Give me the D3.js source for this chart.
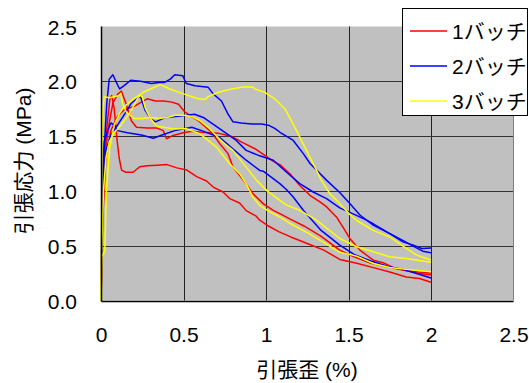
<!DOCTYPE html>
<html><head><meta charset="utf-8">
<script src="https://cdn.jsdelivr.net/npm/d3@7"></script>
<style>
html,body{margin:0;padding:0;background:#fff;}
svg text{font-family:"Liberation Sans",Arial,"Noto Sans CJK JP",sans-serif;}
</style></head>
<body><svg id="c" width="529" height="383"></svg>
<script>
// ---- data (strain %, stress MPa) ----
const seriesNames = ["1バッチ", "2バッチ", "3バッチ"];
const seriesColors = ["#FF0000", "#0000FF", "#FFFF00"];
const xTicks = [0, 0.5, 1, 1.5, 2, 2.5];
const xTickLabels = ["0", "0.5", "1", "1.5", "2", "2.5"];
const yTicks = [0, 0.5, 1.0, 1.5, 2.0, 2.5];
const yTickLabels = ["0.0", "0.5", "1.0", "1.5", "2.0", "2.5"];

const red1 = [[0,0],[0.01,0.9],[0.02,1.3],[0.04,1.65],[0.055,1.85],[0.065,1.87],[0.08,1.75],[0.095,1.5],[0.11,1.3],[0.125,1.19],[0.15,1.17],[0.195,1.17],[0.235,1.22],[0.28,1.23],[0.34,1.235],[0.4,1.24],[0.46,1.21],[0.52,1.19],[0.58,1.13],[0.64,1.09],[0.68,1.035],[0.74,0.99],[0.78,0.93],[0.84,0.89],[0.88,0.82],[0.94,0.77],[0.96,0.735],[1.02,0.675],[1.08,0.626],[1.15,0.58],[1.25,0.52],[1.35,0.46],[1.447,0.375],[1.55,0.34],[1.65,0.30],[1.75,0.26],[1.85,0.215],[1.93,0.20],[2.0,0.167]];
const red2 = [[0,0],[0.01,0.8],[0.03,1.3],[0.06,1.55],[0.1,1.68],[0.14,1.74],[0.2,1.77],[0.245,1.81],[0.28,1.84],[0.33,1.82],[0.38,1.82],[0.43,1.81],[0.47,1.79],[0.508,1.72],[0.59,1.64],[0.67,1.536],[0.72,1.43],[0.77,1.34],[0.80,1.217],[0.88,1.066],[0.92,0.975],[0.983,0.884],[1.044,0.823],[1.084,0.793],[1.15,0.74],[1.23,0.68],[1.33,0.59],[1.447,0.46],[1.53,0.40],[1.636,0.34],[1.74,0.305],[1.84,0.275],[1.92,0.26],[2.0,0.25]];
const red3 = [[0,0],[0.01,0.7],[0.03,1.4],[0.05,1.62],[0.072,1.8],[0.1,1.88],[0.124,1.91],[0.153,1.79],[0.184,1.64],[0.215,1.58],[0.28,1.575],[0.337,1.575],[0.377,1.55],[0.397,1.475],[0.437,1.506],[0.498,1.53],[0.55,1.545],[0.61,1.536],[0.71,1.527],[0.79,1.497],[0.853,1.445],[0.933,1.385],[0.993,1.324],[1.044,1.27],[1.084,1.24],[1.145,1.157],[1.205,1.05],[1.266,0.96],[1.327,0.90],[1.368,0.854],[1.428,0.76],[1.47,0.66],[1.508,0.566],[1.569,0.46],[1.65,0.368],[1.71,0.344],[1.77,0.302],[1.85,0.271],[1.93,0.247],[2.0,0.233]];
const blue1 = [[0,0],[0.01,0.9],[0.02,1.4],[0.035,1.8],[0.05,2.02],[0.072,2.06],[0.09,2.0],[0.113,1.93],[0.14,1.96],[0.18,2.01],[0.24,2.0],[0.305,1.98],[0.35,1.99],[0.385,1.99],[0.42,2.02],[0.447,2.06],[0.496,2.05],[0.517,1.98],[0.57,1.96],[0.65,1.945],[0.68,1.885],[0.73,1.82],[0.77,1.70],[0.80,1.63],[0.85,1.62],[0.913,1.61],[0.974,1.61],[1.014,1.60],[1.053,1.57],[1.085,1.535],[1.165,1.46],[1.226,1.34],[1.267,1.25],[1.368,1.096],[1.447,0.985],[1.508,0.884],[1.569,0.78],[1.65,0.687],[1.75,0.61],[1.83,0.535],[1.893,0.505],[1.944,0.475],[2.0,0.478]];
const blue2 = [[0,0],[0.005,0.6],[0.01,1.04],[0.03,1.37],[0.06,1.51],[0.1,1.6],[0.143,1.7],[0.184,1.8],[0.225,1.85],[0.24,1.86],[0.266,1.74],[0.3,1.66],[0.33,1.63],[0.386,1.667],[0.467,1.68],[0.52,1.69],[0.567,1.70],[0.62,1.67],[0.716,1.57],[0.82,1.46],[0.88,1.37],[0.962,1.32],[1.044,1.28],[1.125,1.17],[1.205,1.066],[1.286,0.99],[1.367,0.93],[1.447,0.845],[1.528,0.79],[1.6,0.74],[1.65,0.70],[1.74,0.62],[1.84,0.54],[1.9,0.49],[1.95,0.45],[2.0,0.435]];
const blue3 = [[0,0],[0.005,0.8],[0.01,1.2],[0.02,1.45],[0.04,1.55],[0.06,1.62],[0.08,1.6],[0.1,1.55],[0.16,1.53],[0.245,1.51],[0.317,1.48],[0.37,1.51],[0.447,1.55],[0.506,1.567],[0.55,1.58],[0.61,1.55],[0.716,1.49],[0.81,1.37],[0.88,1.28],[0.962,1.187],[0.983,1.18],[1.084,1.066],[1.125,1.01],[1.165,0.944],[1.226,0.823],[1.33,0.645],[1.447,0.505],[1.534,0.42],[1.636,0.36],[1.74,0.31],[1.84,0.28],[2.0,0.206]];
const yellow1 = [[0,0],[0.005,0.4],[0.023,0.45],[0.033,1.0],[0.053,1.4],[0.08,1.6],[0.11,1.7],[0.135,1.76],[0.196,1.84],[0.256,1.9],[0.337,1.955],[0.36,1.97],[0.417,1.93],[0.5,1.885],[0.59,1.84],[0.63,1.835],[0.65,1.86],[0.711,1.90],[0.79,1.93],[0.872,1.95],[0.923,1.945],[0.933,1.93],[0.993,1.90],[1.053,1.84],[1.114,1.75],[1.165,1.61],[1.205,1.49],[1.245,1.37],[1.296,1.22],[1.336,1.096],[1.387,0.975],[1.447,0.885],[1.498,0.80],[1.55,0.73],[1.65,0.64],[1.75,0.58],[1.85,0.475],[1.913,0.414],[1.973,0.384],[2.0,0.37]];
const yellow2 = [[0,0],[0.003,0.8],[0.006,1.4],[0.012,1.75],[0.02,1.86],[0.05,1.85],[0.08,1.86],[0.11,1.87],[0.12,1.89],[0.13,1.80],[0.153,1.72],[0.2,1.66],[0.25,1.66],[0.3,1.67],[0.35,1.66],[0.4,1.67],[0.45,1.69],[0.5,1.69],[0.55,1.68],[0.6,1.64],[0.65,1.58],[0.7,1.50],[0.75,1.43],[0.80,1.37],[0.88,1.217],[0.943,1.096],[1.004,1.005],[1.084,0.914],[1.125,0.87],[1.205,0.823],[1.3,0.74],[1.447,0.566],[1.55,0.49],[1.65,0.444],[1.75,0.40],[1.85,0.384],[2.0,0.35]];
const yellow3 = [[0,0],[0.005,0.5],[0.015,1.0],[0.03,1.3],[0.05,1.45],[0.08,1.53],[0.12,1.6],[0.16,1.68],[0.2,1.78],[0.22,1.84],[0.235,1.87],[0.25,1.86],[0.27,1.75],[0.3,1.66],[0.337,1.59],[0.437,1.567],[0.518,1.567],[0.6,1.52],[0.7,1.40],[0.78,1.248],[0.84,1.157],[0.88,1.066],[0.92,0.944],[0.962,0.869],[1.023,0.808],[1.084,0.762],[1.15,0.70],[1.25,0.62],[1.35,0.53],[1.447,0.44],[1.55,0.405],[1.65,0.338],[1.75,0.302],[1.85,0.284],[2.0,0.262]];

const curves = [
  {s:0, d:red1},{s:0, d:red2},{s:0, d:red3},
  {s:1, d:blue1},{s:1, d:blue2},{s:1, d:blue3},
  {s:2, d:yellow1},{s:2, d:yellow2},{s:2, d:yellow3}
];

// ---- layout ----
const svg = d3.select("#c");
const x = d3.scaleLinear().domain([0, 2.5]).range([101, 513.5]);
const y = d3.scaleLinear().domain([0, 2.5]).range([300.5, 26.5]);
const FS = 21;

// plot background
svg.append("rect").attr("x", x(0)).attr("y", y(2.5))
  .attr("width", x(2.5) - x(0)).attr("height", y(0) - y(2.5)).attr("fill", "#C0C0C0");

const px = v => Math.round(x(v)) + 0.5;
const py = v => Math.round(y(v)) + 0.5;

// grid
const g = svg.append("g");
xTicks.slice(1, -1).forEach(t => g.append("line").attr("x1", px(t)).attr("x2", px(t))
  .attr("y1", y(2.5)).attr("y2", y(0)).attr("stroke", "#222").attr("stroke-width", 1));
yTicks.slice(1, -1).forEach(t => g.append("line").attr("y1", py(t)).attr("y2", py(t))
  .attr("x1", x(0)).attr("x2", x(2.5)).attr("stroke", "#333").attr("stroke-width", 1));
// frame right/top
g.append("line").attr("x1", px(2.5) - 1).attr("x2", px(2.5) - 1).attr("y1", y(2.5)).attr("y2", y(0))
  .attr("stroke", "#808080").attr("stroke-width", 1);

// curves
const line = d3.line().x(d => x(d[0])).y(d => y(d[1]));
svg.append("g").selectAll("path").data(curves).join("path")
  .attr("d", d => line(d.d)).attr("fill", "none")
  .attr("stroke", d => seriesColors[d.s]).attr("stroke-width", 1.5)
  .attr("stroke-linejoin", "round");

// axes lines
svg.append("line").attr("x1", px(0)).attr("x2", px(0)).attr("y1", y(2.5)).attr("y2", py(0))
  .attr("stroke", "#000").attr("stroke-width", 1.5);
svg.append("line").attr("x1", px(0)).attr("x2", x(2.5)).attr("y1", py(0)).attr("y2", py(0))
  .attr("stroke", "#000").attr("stroke-width", 1.5);

// y axis via d3.axisLeft (labels)
const yAxis = d3.axisLeft(y).tickValues(yTicks).tickSize(0).tickPadding(0)
  .tickFormat((d, i) => yTickLabels[i]);
const ya = svg.append("g").attr("transform", "translate(77,0)").call(yAxis);
ya.select(".domain").remove();
ya.selectAll("text").attr("font-size", FS).attr("fill", "#000")
  .attr("font-family", "Liberation Sans, Arial, sans-serif").attr("dy", "0.36em");

const xAxis = d3.axisBottom(x).tickValues(xTicks).tickSize(0).tickPadding(0)
  .tickFormat((d, i) => xTickLabels[i]);
const xa = svg.append("g").attr("transform", "translate(0,342)").call(xAxis);
xa.select(".domain").remove();
xa.selectAll("text").attr("font-size", FS).attr("fill", "#000")
  .attr("font-family", "Liberation Sans, Arial, sans-serif").attr("dy", "0");

// axis titles
svg.append("text").attr("x", 307).attr("y", 377).attr("text-anchor", "middle")
  .attr("font-size", FS).text("引張歪 (%)");
svg.append("text").attr("transform", "translate(31,161) rotate(-90)").attr("text-anchor", "middle")
  .attr("font-size", FS).text("引張応力 (MPa)");

// legend
const lg = svg.append("g");
lg.append("rect").attr("x", 402.5).attr("y", 8.5).attr("width", 125).attr("height", 107)
  .attr("fill", "#fff").attr("stroke", "#000").attr("stroke-width", 1);
const rowsY = [31, 66, 101];
seriesNames.forEach((n, i) => {
  lg.append("line").attr("x1", 410).attr("x2", 447).attr("y1", rowsY[i]).attr("y2", rowsY[i])
    .attr("stroke", seriesColors[i]).attr("stroke-width", 1.5);
  lg.append("text").attr("x", 452).attr("y", rowsY[i] + 7.5).attr("font-size", FS).text(n);
});
</script></body></html>
